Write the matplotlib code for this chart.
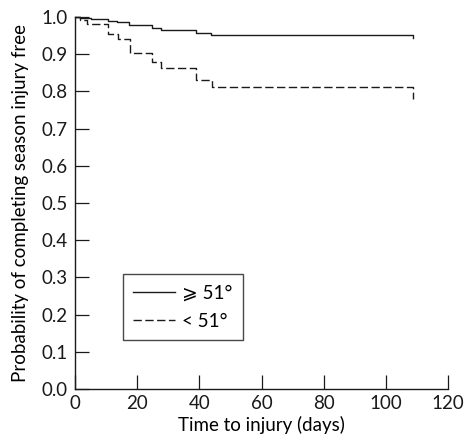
import matplotlib
matplotlib.use("Agg")
import matplotlib.pyplot as plt

plt.rcParams['font.family'] = ['Lato', 'DejaVu Sans']
plt.rcParams['lines.scale_dashes'] = False

# Kaplan-Meier step curves (time in days, survival probability)
t_high = [0, 1.5, 5.0, 10.5, 13.5, 17.5, 24.7, 27.7, 38.8, 43.8, 108.6, 108.6]
s_high = [1.0, 0.997, 0.995, 0.990, 0.986, 0.978, 0.970, 0.965, 0.956, 0.952, 0.952, 0.943]

t_low = [0, 1.5, 3.7, 10.6, 13.9, 17.7, 24.7, 27.7, 38.8, 44.0, 108.6, 108.6]
s_low = [1.0, 0.991, 0.981, 0.953, 0.940, 0.902, 0.878, 0.862, 0.831, 0.812, 0.812, 0.780]

labels = ["\u2a7e 51\u00b0", "< 51\u00b0"]

fig = plt.figure(figsize=(4.67, 4.42), dpi=100)
ax = fig.add_axes([75 / 467, 1 - 389 / 442, 373 / 467, 372 / 442])

ax.step(t_high, s_high, where='post', color='#1a1a1a', lw=1.0, clip_on=False, label=labels[0])
ax.step(t_low, s_low, where='post', color='#1a1a1a', lw=1.0, clip_on=False,
        dashes=(6, 2.5), label=labels[1])

ax.set_xlim(0, 120)
ax.set_ylim(0, 1.0)
ax.set_xticks(range(0, 121, 20))
ax.set_yticks([i / 10 for i in range(11)])
ax.set_yticklabels([f"{i / 10:.1f}" for i in range(11)])

for side in ['top', 'right']:
    ax.spines[side].set_visible(False)
for side in ['left', 'bottom']:
    ax.spines[side].set_linewidth(1.0)
    ax.spines[side].set_color('#1a1a1a')

ax.tick_params(direction='in', length=10, width=0.9, labelsize=13.5, colors='#1a1a1a')
ax.tick_params(axis='y', pad=5)
ax.tick_params(axis='x', pad=4)

ax.set_xlabel("Time to injury (days)", fontsize=13.5, labelpad=3)
ax.set_ylabel("Probability of completing season injury free", fontsize=13.5, labelpad=9)

leg = ax.legend(loc='lower left', bbox_to_anchor=(48 / 373, 49 / 372), fontsize=13.5,
                frameon=True, fancybox=False, edgecolor='#1a1a1a', handlelength=2.2,
                handletextpad=0.4, borderpad=0.55, labelspacing=0.6, borderaxespad=0)
leg.get_frame().set_linewidth(1.0)

fig.savefig("out.png", dpi=100)
